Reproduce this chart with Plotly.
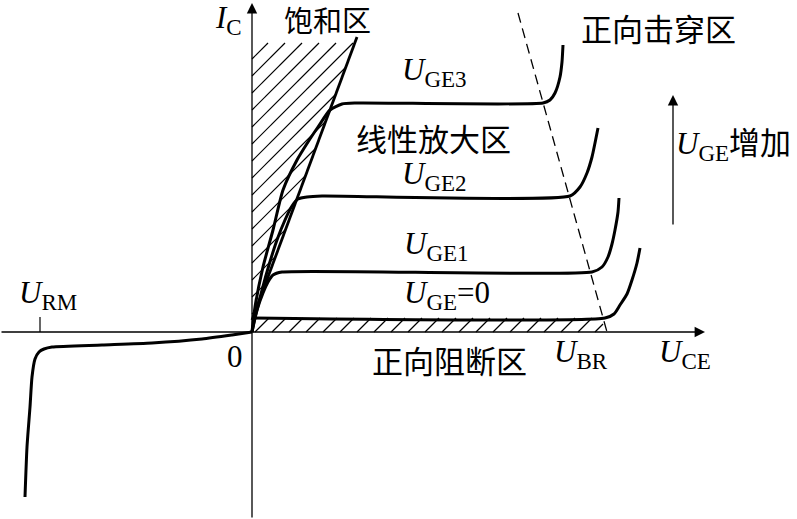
import plotly.graph_objects as go

# ---- data (schematic units: 1 unit = 1 px, origin at axes crossing) ----
neg_x = [0, -20, -50, -100, -150, -200, -208, -213, -217, -220, -222, -225, -227]
neg_y = [0, -3, -7, -11, -13, -15, -17, -20, -27, -45, -75, -115, -165]

uge0_x = [0, 353, 362, 368, 375, 380, 385, 388]
uge0_y = [14, 14, 18, 27, 38, 52, 69, 84]

uge1_x = [0, 2, 5, 11, 16, 21, 30, 340, 350, 356, 360, 363, 366, 367]
uge1_y = [0, 10, 22, 39, 50, 57, 60, 60, 65, 75, 88, 102, 120, 134]

uge2_x = [0, 4, 10, 17, 25, 33, 40, 46, 55, 70, 318, 328, 335, 340, 343, 346]
uge2_y = [0, 18, 42, 67, 92, 112, 126, 133, 135, 136, 136, 145, 159, 175, 189, 204]

uge3_x = [0, 3, 11, 21, 31, 45, 56, 66, 78, 90, 105, 291, 298, 303, 308, 310, 311]
uge3_y = [0, 25, 65, 102, 142, 172, 190, 205, 222, 228, 229, 229, 232, 239, 255, 270, 287]

sat_line_x = [0, 105]
sat_line_y = [12, 295]

sat_top = 289          # top edge of saturation hatch
cut_top = 14           # top edge of cutoff hatch strip
cut_right = [351, 355] # dashed-line x at top / bottom of strip

br_line_x = [266, 355]
br_line_y = [319, 0]

urm_tick_x = [-212, -212]
urm_tick_y = [0, 15]

LAT = "Liberation Serif"
CJK = "Noto Sans CJK SC"

# ---- hatch segments (45 deg, spacing 17) ----
SP = 17
slope = (sat_line_y[1] - sat_line_y[0]) / (sat_line_x[1] - sat_line_x[0])
y0 = sat_line_y[0]
hx, hy = [], []
c = y0 + 6
while c < sat_top:
    yr = (slope * c - y0) / (slope - 1)
    if yr > sat_top:
        xe, ye = sat_top - c, sat_top
    else:
        xe, ye = yr - c, yr
    hx += [0, xe, None]
    hy += [c, ye, None]
    c += SP
c = -3
while c > -cut_right[1]:
    xa, xb = -c, cut_top - c
    xa = max(xa, 0)
    if xb > cut_right[0]:
        xb = cut_right[0]
    if xb > xa:
        hx += [xa, xb, None]
        hy += [xa + c, xb + c, None]
    c -= SP

fig = go.Figure()
fig.add_trace(go.Scatter(x=hx, y=hy, mode="lines",
                         line=dict(color="black", width=1.2), hoverinfo="skip"))

thick = dict(color="black", width=3, shape="spline", smoothing=0.6)
for xs, ys in [(neg_x, neg_y), (uge0_x, uge0_y), (uge1_x, uge1_y),
               (uge2_x, uge2_y), (uge3_x, uge3_y)]:
    fig.add_trace(go.Scatter(x=xs, y=ys, mode="lines", line=thick, hoverinfo="skip"))

fig.add_trace(go.Scatter(x=sat_line_x, y=sat_line_y, mode="lines",
                         line=dict(color="black", width=2.8), hoverinfo="skip"))
fig.add_trace(go.Scatter(x=br_line_x, y=br_line_y, mode="lines",
                         line=dict(color="black", width=1.3, dash="10px,6px"), hoverinfo="skip"))
fig.add_trace(go.Scatter(x=urm_tick_x, y=urm_tick_y, mode="lines",
                         line=dict(color="black", width=1.2), hoverinfo="skip"))

# axes with arrows
arrow = dict(showarrow=True, arrowhead=2, arrowsize=1.6, arrowwidth=1.3,
             arrowcolor="black", axref="x", ayref="y", xref="x", yref="y", text="")
fig.add_annotation(x=453, y=0, ax=-252, ay=0, **arrow)
fig.add_annotation(x=0, y=329, ax=0, ay=-187, **arrow)
fig.add_annotation(x=421, y=237, ax=421, ay=106, **arrow)

def txt(x, y, s, size=31, fam=LAT, xanchor="left"):
    fig.add_annotation(x=x, y=y, text=s, showarrow=False, xref="x", yref="y",
                       xanchor=xanchor, yanchor="middle",
                       font=dict(family=fam, size=size, color="black"))

def U(sub, extra=""):
    return ("<i>U</i><sub><span style='font-size:23px'>" + sub + "</span></sub>" + extra)

txt(-39, 312, "<i>I</i><sub><span style='font-size:23px'>C</span></sub>")
txt(75, 313, "饱和区", size=29, fam=CJK, xanchor="center")
txt(406, 305, "正向击穿区", size=31, fam=CJK, xanchor="center")
txt(148, 260, U("GE3"))
txt(181, 195, "线性放大区", size=31, fam=CJK, xanchor="center")
txt(148, 156, U("GE2"))
txt(150, 86, U("GE1"))
txt(150, 37, U("GE", "=0"))
txt(197, -27, "正向阻断区", size=31, fam=CJK, xanchor="center")
txt(300, -22, U("BR"))
txt(405, -22, U("CE"))
txt(422, 190, U("GE", "<span style='font-family:Noto Sans CJK SC'>增加</span>"))
txt(-235, 37, U("RM"))
txt(-17, -24, "0", xanchor="center")

fig.update_layout(
    width=797, height=519, margin=dict(l=0, r=0, t=0, b=0),
    paper_bgcolor="white", plot_bgcolor="white", showlegend=False,
    xaxis=dict(range=[-252, 545], visible=False, fixedrange=True),
    yaxis=dict(range=[-187, 332], visible=False, fixedrange=True),
)
fig.write_html("out.html", config={"displayModeBar": False},
               post_script="document.body.style.margin='0';document.body.style.overflow='hidden';")
